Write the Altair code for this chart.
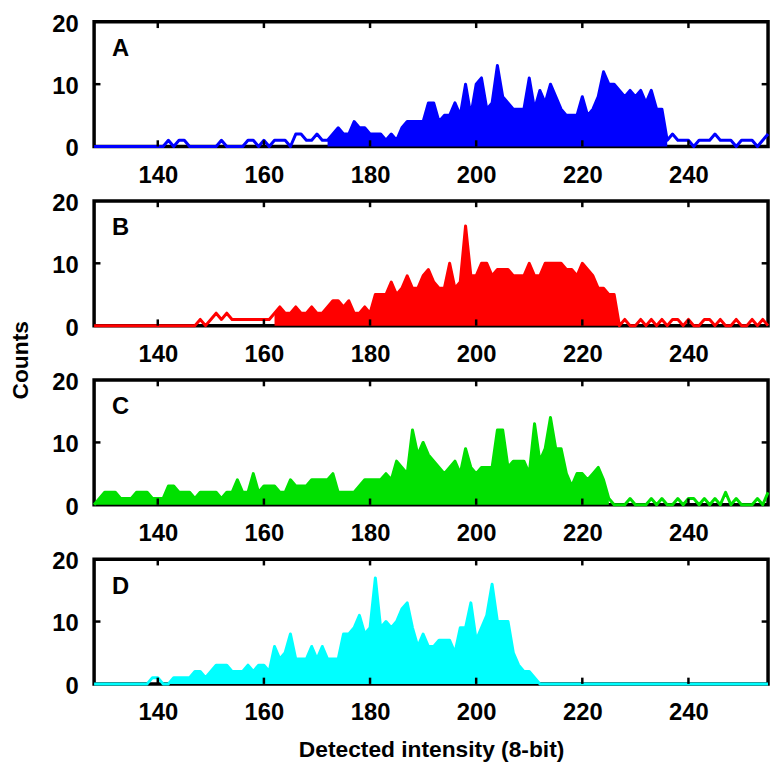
import altair as alt
import pandas as pd

intensity = list(range(128, 256))

counts_A = [0,0,0,0,0,0,0,0,0,0,
            0,0,0,0,1,0,1,1,0,0,
            0,0,0,0,1,0,0,0,0,1,
            1,0,1,0,1,1,1,0,2,2,
            1,1,2,1,1,2,3,2,2,4,
            3,3,2,2,2,1,2,1,3,4,
            4,4,4,7,7,4,5,5,7,5,
            10,5,10,11,6,7,13,8,7,6,
            6,6,11,6,9,7,10,8,6,5,
            5,5,8,5,6,8,12,10,10,9,
            8,9,8,9,7,9,6,6,1,2,
            1,1,1,0,1,1,1,2,1,1,
            1,0,1,1,1,0,1,2]

counts_B = [0,0,0,0,0,0,0,0,0,0,
            0,0,0,0,0,0,0,0,0,0,
            1,0,1,2,1,2,1,1,1,1,
            1,1,1,1,2,3,2,2,3,2,
            2,3,2,2,3,4,4,3,4,2,
            2,3,2,5,5,5,7,5,6,8,
            6,6,8,9,7,6,6,10,6,7,
            16,8,8,10,10,8,9,9,9,8,
            8,8,10,8,8,10,10,10,10,9,
            9,8,10,9,8,6,6,5,5,0,
            1,0,0,1,0,1,0,1,0,1,
            1,0,1,0,0,1,1,0,1,0,
            0,1,0,0,1,0,1,0]

counts_C = [0,1,2,2,2,1,1,1,2,2,
            2,1,1,1,3,3,2,2,2,1,
            2,2,2,2,1,2,2,4,2,2,
            5,2,3,3,3,2,2,4,3,3,
            3,4,4,4,4,5,2,2,2,2,
            3,4,4,4,4,5,4,7,6,5,
            12,8,10,8,7,6,5,6,7,5,
            9,6,5,6,6,6,12,12,6,7,
            7,7,5,13,7,9,14,9,9,5,
            3,5,5,4,5,6,4,1,0,0,
            0,1,0,0,0,1,0,1,0,0,
            1,0,1,1,0,1,0,1,0,2,
            0,1,0,0,0,1,0,2]

counts_D = [0,0,0,0,0,0,0,0,0,0,
            0,1,1,0,0,1,1,1,1,2,
            2,1,2,3,3,3,2,2,2,3,
            2,3,3,2,6,4,5,8,4,4,
            4,6,4,6,4,4,4,8,8,9,
            11,8,9,17,9,10,9,10,12,13,
            9,6,8,6,6,7,7,7,5,9,
            9,13,7,9,11,16,10,10,10,5,
            3,2,2,1,0,0,0,0,0,0,
            0,0,0,0,0,0,0,0,0,0,
            0,0,0,0,0,0,0,0,0,0,
            0,0,0,0,0,0,0,0,0,0,
            0,0,0,0,0,0,0,0]

panel_labels = ["A", "B", "C", "D"]
panel_colors = ["#0000ff", "#ff0000", "#00e000", "#00ffff"]
fill_start = [172, 162, 128, 142]
fill_end = [236, 227, 225, 212]
x_ticks = [140, 160, 180, 200, 220, 240]
y_ticks = [0, 10, 20]
label_pos = (133, 15.6)

W, H = 681, 126
GAP = 55
FONT = "Liberation Sans"
X_DOMAIN = [128, 255]
Y_DOMAIN = [0, 20]


def panel(idx, counts):
    df = pd.DataFrame({"intensity": intensity, "counts": counts})
    last = idx == 3
    xaxis = alt.Axis(values=x_ticks, grid=False, ticks=False, domain=False,
                     labelFont=FONT, labelFontSize=24, labelFontWeight="bold",
                     labelColor="black", labelPadding=17,
                     title="Detected intensity (8-bit)" if last else None,
                     titleFont=FONT, titleFontSize=23, titleFontWeight="bold",
                     titleColor="black", titlePadding=14)
    ycommon = dict(values=y_ticks, grid=False, ticks=False, domain=False,
                   labelFont=FONT, labelFontSize=24, labelFontWeight="bold",
                   labelColor="black", labelPadding=16, labelOffset=2.5)
    if idx == 1:
        yaxis = alt.Axis(title="Counts", titleFont=FONT, titleFontSize=23,
                         titleFontWeight="bold", titleColor="black",
                         titleX=-74, titleY=H + GAP / 2 + 7, titleAngle=270,
                         titleAlign="center", titleBaseline="middle", **ycommon)
    else:
        yaxis = alt.Axis(title=None, **ycommon)
    xs = alt.Scale(domain=X_DOMAIN, nice=False, zero=False)
    ys = alt.Scale(domain=Y_DOMAIN, nice=False)
    color = panel_colors[idx]
    base = alt.Chart(df)
    area = base.transform_filter(
        (alt.datum.intensity >= fill_start[idx]) & (alt.datum.intensity <= fill_end[idx])
    ).mark_area(color=color, opacity=1).encode(
        x=alt.X("intensity:Q", scale=xs, axis=xaxis),
        y=alt.Y("counts:Q", scale=ys, axis=yaxis),
    )
    line = base.mark_line(color=color, strokeWidth=3, strokeJoin="round").encode(
        x=alt.X("intensity:Q", scale=xs),
        y=alt.Y("counts:Q", scale=ys),
    )
    # inward ticks
    tick_len_y = 1.0
    tick_len_x = 1.2
    vt = pd.DataFrame({
        "intensity": x_ticks + x_ticks,
        "y1": [Y_DOMAIN[0]] * len(x_ticks) + [Y_DOMAIN[1] - tick_len_y] * len(x_ticks),
        "y2": [Y_DOMAIN[0] + tick_len_y] * len(x_ticks) + [Y_DOMAIN[1]] * len(x_ticks),
    })
    vticks = alt.Chart(vt).mark_rule(color="black", strokeWidth=2.5).encode(
        x=alt.X("intensity:Q", scale=xs), y=alt.Y("y1:Q", scale=ys), y2="y2:Q")
    inner_y = [v for v in y_ticks if Y_DOMAIN[0] < v < Y_DOMAIN[1]]
    ht = pd.DataFrame({
        "x1": [X_DOMAIN[0]] * len(inner_y) + [X_DOMAIN[1] - tick_len_x] * len(inner_y),
        "x2": [X_DOMAIN[0] + tick_len_x] * len(inner_y) + [X_DOMAIN[1]] * len(inner_y),
        "counts": inner_y + inner_y,
    })
    hticks = alt.Chart(ht).mark_rule(color="black", strokeWidth=2.5).encode(
        x=alt.X("x1:Q", scale=xs), x2="x2:Q", y=alt.Y("counts:Q", scale=ys))
    lab = pd.DataFrame({"intensity": [label_pos[0]], "counts": [label_pos[1]],
                        "t": [panel_labels[idx]]})
    letter = alt.Chart(lab).mark_text(font=FONT, fontSize=24, fontWeight="bold",
                                      color="black", align="center",
                                      baseline="middle").encode(
        x=alt.X("intensity:Q", scale=xs), y=alt.Y("counts:Q", scale=ys), text="t:N")
    return alt.layer(area, line, vticks, hticks, letter).properties(width=W, height=H)


panels = [panel(i, c) for i, c in enumerate([counts_A, counts_B, counts_C, counts_D])]

chart = alt.vconcat(*panels, spacing=GAP, bounds="flush").properties(
    padding={"left": 0, "top": -2, "right": 0, "bottom": 0},
    background="white",
).configure_view(stroke="black", strokeWidth=3.5)

chart.save("out.html", embed_options={"renderer": "svg", "actions": False})
